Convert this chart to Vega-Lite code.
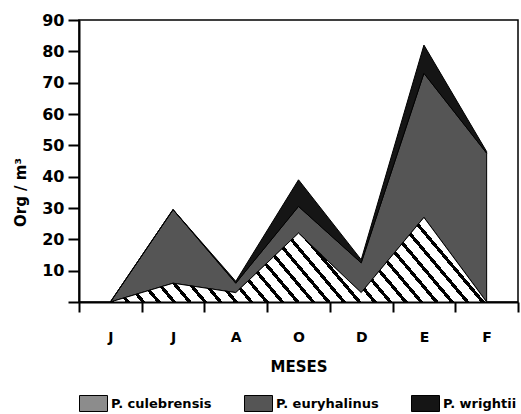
{
  "$schema": "https://vega.github.io/schema/vega-lite/v6.json",
  "width": 439,
  "height": 282,
  "autosize": "none",
  "padding": {"left": 79, "top": 20, "right": 3, "bottom": 112},
  "background": "white",
  "config": {
    "view": {"stroke": "black", "strokeWidth": 1.5},
    "axis": {"labelFont": "DejaVu Sans", "titleFont": "DejaVu Sans", "labelFontWeight": "bold", "titleFontWeight": "bold", "labelColor": "black", "titleColor": "black", "domainColor": "black", "tickColor": "black", "domainWidth": 2, "tickWidth": 2, "grid": false}
  },
  "data": {"values": [
    {"m": 0, "species": "P. culebrensis", "v": 0},
    {"m": 1, "species": "P. culebrensis", "v": 6},
    {"m": 2, "species": "P. culebrensis", "v": 3},
    {"m": 3, "species": "P. culebrensis", "v": 22},
    {"m": 4, "species": "P. culebrensis", "v": 3},
    {"m": 5, "species": "P. culebrensis", "v": 27},
    {"m": 6, "species": "P. culebrensis", "v": 0},
    {"m": 0, "species": "P. euryhalinus", "v": 0},
    {"m": 1, "species": "P. euryhalinus", "v": 23.5},
    {"m": 2, "species": "P. euryhalinus", "v": 3},
    {"m": 3, "species": "P. euryhalinus", "v": 8.5},
    {"m": 4, "species": "P. euryhalinus", "v": 9.5},
    {"m": 5, "species": "P. euryhalinus", "v": 46},
    {"m": 6, "species": "P. euryhalinus", "v": 47.5},
    {"m": 0, "species": "P. wrightii", "v": 0},
    {"m": 1, "species": "P. wrightii", "v": 0},
    {"m": 2, "species": "P. wrightii", "v": 0.6},
    {"m": 3, "species": "P. wrightii", "v": 8.5},
    {"m": 4, "species": "P. wrightii", "v": 1},
    {"m": 5, "species": "P. wrightii", "v": 9},
    {"m": 6, "species": "P. wrightii", "v": 0.5}
  ]},
  "encoding": {
    "x": {
      "field": "m", "type": "quantitative",
      "scale": {"domain": [-0.5, 6.5], "nice": false, "zero": false},
      "axis": {
        "values": [-0.5, 0.5, 1.5, 2.5, 3.5, 4.5, 5.5, 6.5],
        "labelExpr": "['J','J','A','O','D','E','F',''][round(datum.value + 0.5)]",
        "labelOffset": 31.36, "labelFlush": false, "labelOverlap": false, "labelBound": false,
        "labelFontSize": 14, "labelPadding": 18, "tickSize": 10,
        "title": "MESES", "titleFontSize": 15, "titlePadding": 15
      }
    },
    "y": {
      "field": "v", "type": "quantitative", "stack": "zero",
      "scale": {"domain": [0, 90], "nice": false},
      "axis": {
        "values": [0, 10, 20, 30, 40, 50, 60, 70, 80, 90],
        "labelExpr": "datum.value == 0 ? '' : datum.label",
        "labelFontSize": 16, "labelPadding": 4, "tickSize": 11,
        "title": "Org / m³", "titleFontSize": 15, "titleAngle": -90,
        "titleX": -54, "titleY": 172, "titleAlign": "center", "titleBaseline": "alphabetic"
      }
    }
  },
  "layer": [
    {
      "mark": {"type": "area", "stroke": "black", "strokeWidth": 1},
      "encoding": {
        "order": {"field": "species", "type": "nominal", "sort": "ascending"},
        "color": {
          "field": "species", "type": "nominal",
          "scale": {"domain": ["P. culebrensis", "P. euryhalinus", "P. wrightii"], "range": ["#8c8c8c", "#555555", "#151515"]},
          "legend": {
            "orient": "none", "legendX": 6, "legendY": 375, "direction": "horizontal", "columns": 3,
            "title": null, "padding": 0, "gridAlign": "none", "columnPadding": 30,
            "symbolType": "M-1.75,-1L1.75,-1L1.75,1L-1.75,1Z", "symbolSize": 256,
            "symbolStrokeColor": "black", "symbolStrokeWidth": 1,
            "labelFont": "DejaVu Sans", "labelFontWeight": "bold", "labelFontSize": 13, "labelColor": "black", "labelOffset": 9, "labelLimit": 200,
            "encode": {
              "symbols": {
                "update": {
                  "stroke": {"value": "black"},
                  "strokeWidth": {"value": 1},
                  "fill": {"signal": "datum.value === 'P. culebrensis' ? {id: 'legstripes', gradient: 'linear', x1: 0, y1: 1, x2: 1.1848, y2: 0.3235, stops: [{offset: 0, color: 'black'}, {offset: 0.08, color: 'black'}, {offset: 0.08, color: 'white'}, {offset: 0.2, color: 'white'}, {offset: 0.2, color: 'black'}, {offset: 0.28, color: 'black'}, {offset: 0.28, color: 'white'}, {offset: 0.4, color: 'white'}, {offset: 0.4, color: 'black'}, {offset: 0.48, color: 'black'}, {offset: 0.48, color: 'white'}, {offset: 0.6, color: 'white'}, {offset: 0.6, color: 'black'}, {offset: 0.68, color: 'black'}, {offset: 0.68, color: 'white'}, {offset: 0.8, color: 'white'}, {offset: 0.8, color: 'black'}, {offset: 0.88, color: 'black'}, {offset: 0.88, color: 'white'}, {offset: 1, color: 'white'}]} : scale('color', datum.value)"}
                }
              }
            }
          }
        }
      }
    },
    {
      "transform": [{"filter": "datum.species === 'P. culebrensis'"}],
      "mark": {"type": "area", "stroke": "black", "strokeWidth": 1, "fill": {"gradient": "linear", "x1": 0, "y1": 1, "x2": 1.1482, "y2": 0.7825, "stops": [
            {"offset": 0, "color": "black"}, {"offset": 0.0097, "color": "black"}, {"offset": 0.0097, "color": "white"}, {"offset": 0.0345, "color": "white"},
            {"offset": 0.0345, "color": "black"}, {"offset": 0.0442, "color": "black"}, {"offset": 0.0442, "color": "white"}, {"offset": 0.069, "color": "white"},
            {"offset": 0.069, "color": "black"}, {"offset": 0.0787, "color": "black"}, {"offset": 0.0787, "color": "white"}, {"offset": 0.1034, "color": "white"},
            {"offset": 0.1034, "color": "black"}, {"offset": 0.1131, "color": "black"}, {"offset": 0.1131, "color": "white"}, {"offset": 0.1379, "color": "white"},
            {"offset": 0.1379, "color": "black"}, {"offset": 0.1476, "color": "black"}, {"offset": 0.1476, "color": "white"}, {"offset": 0.1724, "color": "white"},
            {"offset": 0.1724, "color": "black"}, {"offset": 0.1821, "color": "black"}, {"offset": 0.1821, "color": "white"}, {"offset": 0.2069, "color": "white"},
            {"offset": 0.2069, "color": "black"}, {"offset": 0.2166, "color": "black"}, {"offset": 0.2166, "color": "white"}, {"offset": 0.2414, "color": "white"},
            {"offset": 0.2414, "color": "black"}, {"offset": 0.2511, "color": "black"}, {"offset": 0.2511, "color": "white"}, {"offset": 0.2759, "color": "white"},
            {"offset": 0.2759, "color": "black"}, {"offset": 0.2856, "color": "black"}, {"offset": 0.2856, "color": "white"}, {"offset": 0.3103, "color": "white"},
            {"offset": 0.3103, "color": "black"}, {"offset": 0.32, "color": "black"}, {"offset": 0.32, "color": "white"}, {"offset": 0.3448, "color": "white"},
            {"offset": 0.3448, "color": "black"}, {"offset": 0.3545, "color": "black"}, {"offset": 0.3545, "color": "white"}, {"offset": 0.3793, "color": "white"},
            {"offset": 0.3793, "color": "black"}, {"offset": 0.389, "color": "black"}, {"offset": 0.389, "color": "white"}, {"offset": 0.4138, "color": "white"},
            {"offset": 0.4138, "color": "black"}, {"offset": 0.4235, "color": "black"}, {"offset": 0.4235, "color": "white"}, {"offset": 0.4483, "color": "white"},
            {"offset": 0.4483, "color": "black"}, {"offset": 0.458, "color": "black"}, {"offset": 0.458, "color": "white"}, {"offset": 0.4828, "color": "white"},
            {"offset": 0.4828, "color": "black"}, {"offset": 0.4925, "color": "black"}, {"offset": 0.4925, "color": "white"}, {"offset": 0.5172, "color": "white"},
            {"offset": 0.5172, "color": "black"}, {"offset": 0.5269, "color": "black"}, {"offset": 0.5269, "color": "white"}, {"offset": 0.5517, "color": "white"},
            {"offset": 0.5517, "color": "black"}, {"offset": 0.5614, "color": "black"}, {"offset": 0.5614, "color": "white"}, {"offset": 0.5862, "color": "white"},
            {"offset": 0.5862, "color": "black"}, {"offset": 0.5959, "color": "black"}, {"offset": 0.5959, "color": "white"}, {"offset": 0.6207, "color": "white"},
            {"offset": 0.6207, "color": "black"}, {"offset": 0.6304, "color": "black"}, {"offset": 0.6304, "color": "white"}, {"offset": 0.6552, "color": "white"},
            {"offset": 0.6552, "color": "black"}, {"offset": 0.6649, "color": "black"}, {"offset": 0.6649, "color": "white"}, {"offset": 0.6897, "color": "white"},
            {"offset": 0.6897, "color": "black"}, {"offset": 0.6994, "color": "black"}, {"offset": 0.6994, "color": "white"}, {"offset": 0.7241, "color": "white"},
            {"offset": 0.7241, "color": "black"}, {"offset": 0.7338, "color": "black"}, {"offset": 0.7338, "color": "white"}, {"offset": 0.7586, "color": "white"},
            {"offset": 0.7586, "color": "black"}, {"offset": 0.7683, "color": "black"}, {"offset": 0.7683, "color": "white"}, {"offset": 0.7931, "color": "white"},
            {"offset": 0.7931, "color": "black"}, {"offset": 0.8028, "color": "black"}, {"offset": 0.8028, "color": "white"}, {"offset": 0.8276, "color": "white"},
            {"offset": 0.8276, "color": "black"}, {"offset": 0.8373, "color": "black"}, {"offset": 0.8373, "color": "white"}, {"offset": 0.8621, "color": "white"},
            {"offset": 0.8621, "color": "black"}, {"offset": 0.8718, "color": "black"}, {"offset": 0.8718, "color": "white"}, {"offset": 0.8966, "color": "white"},
            {"offset": 0.8966, "color": "black"}, {"offset": 0.9063, "color": "black"}, {"offset": 0.9063, "color": "white"}, {"offset": 0.931, "color": "white"},
            {"offset": 0.931, "color": "black"}, {"offset": 0.9407, "color": "black"}, {"offset": 0.9407, "color": "white"}, {"offset": 0.9655, "color": "white"},
            {"offset": 0.9655, "color": "black"}, {"offset": 0.9752, "color": "black"}, {"offset": 0.9752, "color": "white"}, {"offset": 1, "color": "white"}
          ]}}
    }
  ]
}
